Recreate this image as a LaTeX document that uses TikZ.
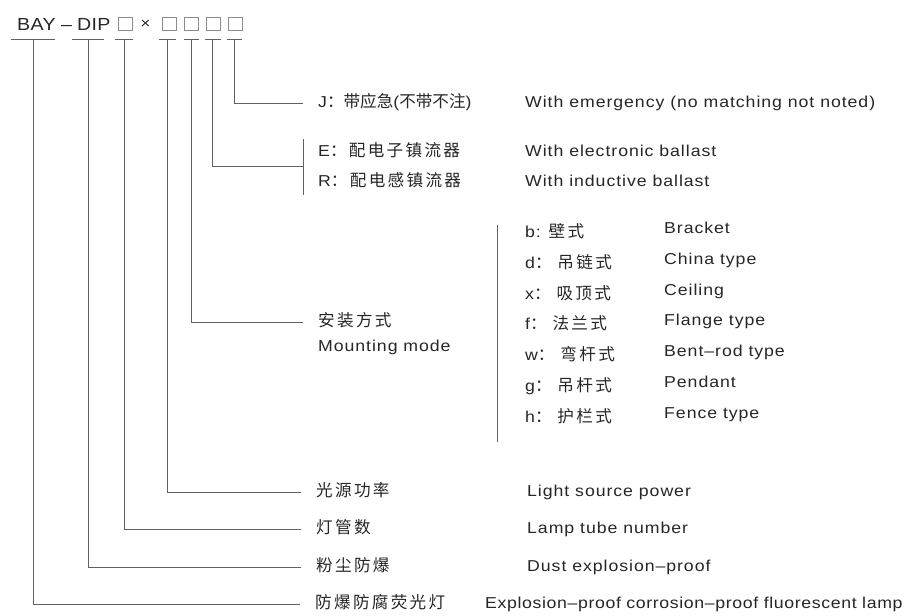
\documentclass[tikz,border=0pt]{standalone}
\usepackage{fontspec}
\setmainfont{Liberation Sans}[FakeStretch=1.12, LetterSpace=6]
\newfontfamily\cjk{Noto Sans CJK SC}[Scale=1.05, LetterSpace=14]
\newfontfamily\cjkeng{Noto Sans CJK SC}[Scale=1.05, LetterSpace=0]
\newcommand{\zh}[1]{{\cjk #1}}
\newcommand{\zheng}[1]{{\cjkeng #1}}
\tikzset{
	linie/.style={draw=black!62, line width=0.9pt},
	kasten/.style={draw=black!45, line width=0.9pt, minimum width=14pt,
		minimum height=13pt, inner sep=0pt},
	kopf/.style={inner sep=0pt, text=black!85,
		font=\fontsize{17.5}{20}\selectfont\addfontfeature{LetterSpace=2}},
	txt/.style={anchor=west, inner xsep=0pt, inner ysep=0pt, text height=13pt,
		text depth=4pt, text=black!85, font=\fontsize{15.8}{18}\selectfont},
	zhtxt/.style={txt, inner xsep=15pt}
}
\begin{document}
\begin{tikzpicture}[x=1pt, y=-1pt]
	\useasboundingbox (0,0) rectangle (908,616);
	% Typenbezeichnung oben
	\node[kopf, anchor=base west] (bay) at (17,30) {BAY};
	\node[kopf, anchor=base west] (strich) at (61,30) {–};
	\node[kopf, anchor=base west] (dip) at (77,30) {DIP};
	\node[kasten] (k1) at (125,23.5) {};
	\node[kopf, font=\fontsize{15}{18}\selectfont] (mal) at (145.5,24.5) {×};
	\foreach \x [count=\i from 2] in {169,191.5,213.5,235}
		\node[kasten] (k\i) at (\x,23.5) {};

	% Unterstriche und Anfang der Linien
	\foreach \x/\w [count=\i] in {33/22, 88/16, 124/9, 167.5/8.5, 191/7.5,
		212.5/8, 234.5/7.5}{
		\coordinate (t\i) at (\x,39);
		\draw[linie] ([xshift=-\w pt]t\i) -- ([xshift=\w pt]t\i);
	}

	% Notlicht
	\node[zhtxt] (notl) at (303,103)
		{J\zheng{：带应急}\addfontfeature{LetterSpace=0}(\zheng{不带不注})};
	\node[txt] (notl-en) at (525,103) {With emergency (no matching not noted)};
	\draw[linie] (t7) |- (notl.west);

	% Vorschaltgeraet
	\coordinate (vg) at (303,166);
	\draw[linie] (303,139) -- (303,195);
	\draw[linie] (t6) |- (vg);
	\node[zhtxt] (vge) at (303,152) {E\zh{：配电子镇流器}};
	\node[txt] (vge-en) at (525,152) {With electronic ballast};
	\node[zhtxt] (vgr) at (303,182) {R\zh{：配电感镇流器}};
	\node[txt] (vgr-en) at (525,182) {With inductive ballast};

	% Montageart
	\node[zhtxt] (mont) at (303,322) {\zh{安装方式}};
	\node[txt] (mont-en) at (318,347) {Mounting mode};
	\draw[linie] (t5) |- (mont.west);
	\draw[linie] (497,225) -- (497,442);
	\foreach \zhl/\enl [count=\i from 0] in {b: \zh{壁式}/Bracket,
		d\zheng{：} \zh{吊链式}/China type, x\zheng{：} \zh{吸顶式}/Ceiling,
		f\zheng{：} \zh{法兰式}/Flange type, w\zheng{：} \zh{弯杆式}/Bent–rod type,
		g\zheng{：} \zh{吊杆式}/Pendant, h\zheng{：} \zh{护栏式}/Fence type}{
		\node[txt] (art\i) at (525,233+30.8*\i) {\zhl};
		\node[txt] (art\i-en) at (664,229+30.8*\i) {\enl};
	}

	% Leistung, Roehren, Staub, Leuchte
	\node[zhtxt] (leist) at (301,492) {\zh{光源功率}};
	\node[txt] (leist-en) at (527,492) {Light source power};
	\draw[linie] (t4) |- (leist.west);
	\node[zhtxt] (roehre) at (301,529) {\zh{灯管数}};
	\node[txt] (roehre-en) at (527,529) {Lamp tube number};
	\draw[linie] (t3) |- (roehre.west);
	\node[zhtxt] (staub) at (301,567) {\zh{粉尘防爆}};
	\node[txt] (staub-en) at (527,567) {Dust explosion–proof};
	\draw[linie] (t2) |- (staub.west);
	\node[zhtxt] (leuchte) at (300,604) {\zh{防爆防腐荧光灯}};
	\node[txt] (leuchte-en) at (485,604) {\addfontfeature{LetterSpace=4}%
		Explosion–proof corrosion–proof fluorescent lamp};
	\draw[linie] (t1) |- (leuchte.west);
\end{tikzpicture}
\end{document}
